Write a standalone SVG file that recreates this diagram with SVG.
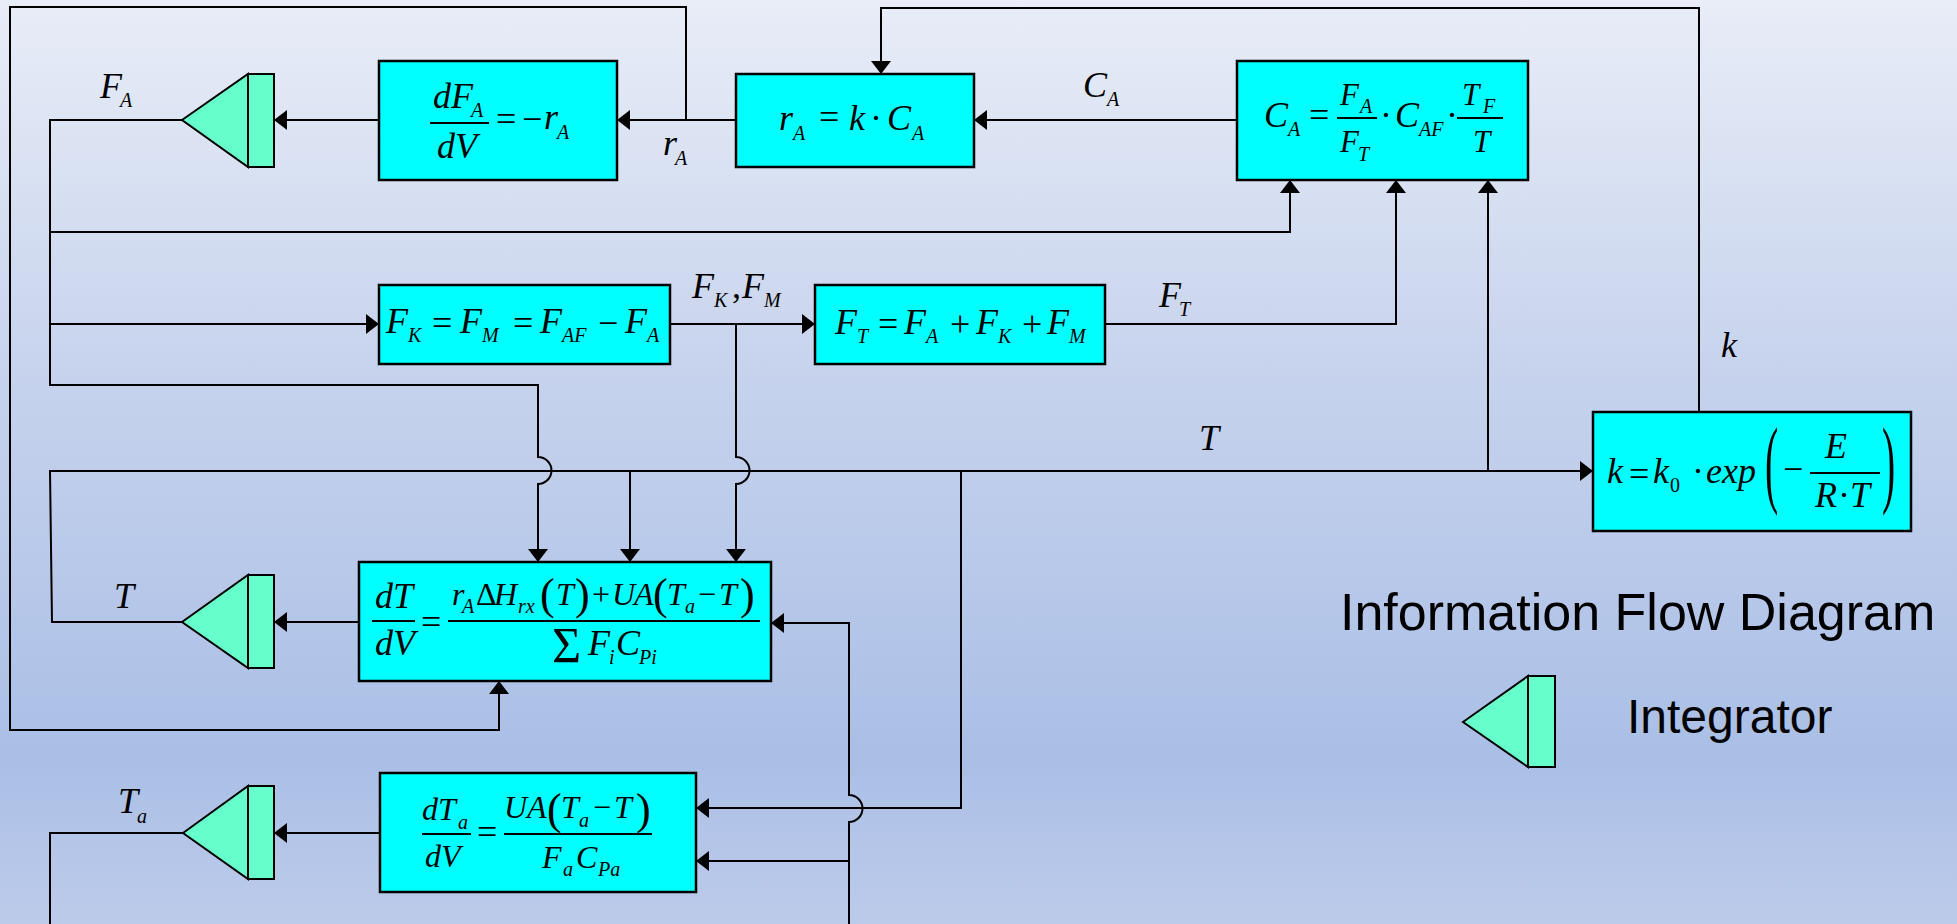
<svg xmlns="http://www.w3.org/2000/svg" width="1957" height="924" viewBox="0 0 1957 924">
<defs>
<linearGradient id="bg" x1="0" y1="0" x2="0" y2="1">
<stop offset="0" stop-color="#e8edf7"/>
<stop offset="0.4" stop-color="#c7d3ed"/>
<stop offset="0.82" stop-color="#aabfe6"/>
<stop offset="1" stop-color="#bdcbea"/>
</linearGradient>
<marker id="ah" markerUnits="userSpaceOnUse" markerWidth="14" markerHeight="20" refX="13" refY="10" orient="auto">
<path d="M0,0 L13,10 L0,20 z" fill="#000"/>
</marker>
<style>
.bx{fill:#00ffff;stroke:#000;stroke-width:2.5}
.ig{fill:#66ffcc;stroke:#000;stroke-width:2}
.ln{fill:none;stroke:#000;stroke-width:2}
.ar{marker-end:url(#ah)}
.fb{stroke:#000;stroke-width:1.8}
.m{font-family:"Liberation Serif",serif;font-style:italic;font-size:36px;fill:#000}
.n{font-family:"Liberation Serif",serif;font-style:italic;font-size:32px;fill:#000}
.f{font-family:"Liberation Serif",serif;font-style:italic;font-size:31px;fill:#000}
.u{font-family:"Liberation Serif",serif;font-size:36px;fill:#000}
.un{font-family:"Liberation Serif",serif;font-size:32px;fill:#000}
.p{font-family:"Liberation Serif",serif;font-size:44px;fill:#000}
.s{font-family:"Liberation Serif",serif;font-style:italic;font-size:20px;fill:#000}
.su{font-family:"Liberation Serif",serif;font-size:20px;fill:#000}
.t{font-family:"Liberation Sans",Arial,sans-serif;fill:#000}
</style>
</defs>
<rect x="0" y="0" width="1957" height="924" fill="url(#bg)"/>

<g id="connectors">
<path class="ln ar" d="M379,120 L274,120"/>
<path class="ln ar" d="M182,120 L50,120 L50,385 L538,385 L538,457 A13.5,13.5 0 0 1 538,484 L538,562"/>
<path class="ln ar" d="M50,232 L1290,232 L1290,180"/>
<path class="ln ar" d="M50,324 L379,324"/>
<path class="ln ar" d="M670,324 L815,324"/>
<path class="ln ar" d="M736,324 L736,457 A13.5,13.5 0 0 1 736,484 L736,562"/>
<path class="ln ar" d="M1105,324 L1396,324 L1396,180"/>
<path class="ln ar" d="M182,622 L52,622 L50,471 L1593,471"/>
<path class="ln ar" d="M630,471 L630,562"/>
<path class="ln ar" d="M961,471 L961,808 L696,808"/>
<path class="ln ar" d="M1488,471 L1488,180"/>
<path class="ln ar" d="M1237,120 L974,120"/>
<path class="ln ar" d="M736,120 L617,120"/>
<path class="ln ar" d="M686,120 L686,7 L10,7 L10,730 L499,730 L499,681"/>
<path class="ln ar" d="M1699,412 L1699,8 L881,8 L881,74"/>
<path class="ln ar" d="M359,622 L274,622"/>
<path class="ln ar" d="M849,924 L849,822 A13.5,13.5 0 0 0 849,795 L849,623 L771,623"/>
<path class="ln ar" d="M849,861 L696,861"/>
<path class="ln ar" d="M380,833 L274,833"/>
<path class="ln" d="M183,833 L50,833 L50,924"/>
</g>

<g id="integrator-FA">
<polygon class="ig" points="182,120 248,74 248,167"/>
<rect class="ig" x="248" y="74" width="26" height="93"/>
</g>
<g id="integrator-T">
<polygon class="ig" points="182,622 248,575 248,668"/>
<rect class="ig" x="248" y="575" width="26" height="93"/>
</g>
<g id="integrator-Ta">
<polygon class="ig" points="183,833 248,786 248,879"/>
<rect class="ig" x="248" y="786" width="26" height="93"/>
</g>

<g id="node-dFA">
<rect class="bx" x="379" y="61" width="238" height="119"/>
<text class="m" x="433" y="108">dF</text><text class="s" x="471" y="117">A</text>
<line class="fb" x1="430" y1="123" x2="489" y2="123"/>
<text class="m" x="437" y="158">dV</text>
<text class="u" x="496" y="131">=</text>
<text class="u" x="522" y="131">−</text>
<text class="m" x="544" y="129">r</text><text class="s" x="557" y="139">A</text>
</g>

<g id="node-rA">
<rect class="bx" x="736" y="74" width="238" height="93"/>
<text class="m" x="779" y="130">r</text><text class="s" x="793" y="140">A</text>
<text class="u" x="819" y="129">=</text>
<text class="m" x="849" y="130">k</text>
<text class="u" x="870" y="130">·</text>
<text class="m" x="887" y="130">C</text><text class="s" x="912" y="140">A</text>
</g>

<g id="node-CA">
<rect class="bx" x="1237" y="61" width="291" height="119"/>
<text class="m" x="1264" y="127">C</text><text class="s" x="1288" y="136">A</text>
<text class="u" x="1309" y="127">=</text>
<text class="f" x="1340" y="105">F</text><text class="s" x="1360" y="113">A</text>
<line class="fb" x1="1337" y1="118" x2="1377" y2="118"/>
<text class="f" x="1340" y="152">F</text><text class="s" x="1358" y="161">T</text>
<text class="u" x="1380" y="127">·</text>
<text class="m" x="1395" y="127">C</text><text class="s" x="1419" y="136">AF</text>
<text class="u" x="1446" y="127">·</text>
<text class="f" x="1462" y="105">T</text><text class="s" x="1483" y="113">F</text>
<line class="fb" x1="1457" y1="118" x2="1503" y2="118"/>
<text class="f" x="1473" y="152">T</text>
</g>

<g id="node-FK">
<rect class="bx" x="379" y="285" width="291" height="79"/>
<text class="m" x="386" y="333">F</text><text class="s" x="408" y="342">K</text>
<text class="u" x="432" y="335">=</text>
<text class="m" x="460" y="333">F</text><text class="s" x="482" y="342">M</text>
<text class="u" x="513" y="335">=</text>
<text class="m" x="540" y="333">F</text><text class="s" x="562" y="342">AF</text>
<text class="u" x="598" y="335">−</text>
<text class="m" x="625" y="333">F</text><text class="s" x="647" y="342">A</text>
</g>

<g id="node-FT">
<rect class="bx" x="815" y="285" width="290" height="79"/>
<text class="m" x="835" y="334">F</text><text class="s" x="857" y="343">T</text>
<text class="u" x="878" y="336">=</text>
<text class="m" x="904" y="334">F</text><text class="s" x="926" y="343">A</text>
<text class="u" x="950" y="336">+</text>
<text class="m" x="976" y="334">F</text><text class="s" x="998" y="343">K</text>
<text class="u" x="1022" y="336">+</text>
<text class="m" x="1047" y="334">F</text><text class="s" x="1069" y="343">M</text>
</g>

<g id="node-k">
<rect class="bx" x="1593" y="412" width="318" height="119"/>
<text class="m" x="1607" y="483">k</text>
<text class="u" x="1629" y="486">=</text>
<text class="m" x="1653" y="483">k</text><text class="su" x="1670" y="492">0</text>
<text class="u" x="1692" y="483">·</text>
<text class="m" x="1706" y="483">exp</text>
<text class="u" transform="translate(1765,495) scale(1.1,2.7)">(</text>
<text class="u" x="1783" y="481">−</text>
<text class="m" x="1825" y="458">E</text>
<line class="fb" x1="1810" y1="473" x2="1880" y2="473"/>
<text class="m" x="1815" y="507">R</text>
<text class="u" x="1838" y="507">·</text>
<text class="m" x="1850" y="507">T</text>
<text class="u" transform="translate(1882,495) scale(1.1,2.7)">)</text>
</g>

<g id="node-dT">
<rect class="bx" x="359" y="562" width="412" height="119"/>
<text class="m" x="375" y="608">dT</text>
<line class="fb" x1="372" y1="621" x2="415" y2="621"/>
<text class="m" x="375" y="655">dV</text>
<text class="u" x="421" y="634">=</text>
<line class="fb" x1="448" y1="621" x2="760" y2="621"/>
<text class="n" x="452" y="605">r</text><text class="s" x="462" y="613">A</text>
<text class="un" x="476" y="605">Δ</text>
<text class="n" x="494" y="605">H</text><text class="s" x="518" y="613">rx</text>
<text class="p" x="540" y="609">(</text>
<text class="n" x="556" y="605">T</text>
<text class="p" x="575" y="609">)</text>
<text class="un" x="592" y="605">+</text>
<text class="n" x="612" y="605">U</text>
<text class="n" x="634" y="605">A</text>
<text class="p" x="653" y="609">(</text>
<text class="n" x="667" y="605">T</text><text class="s" x="685" y="613">a</text>
<text class="un" x="698" y="605">−</text>
<text class="n" x="719" y="605">T</text>
<text class="p" x="740" y="609">)</text>
<text class="u" x="552" y="662" style="font-size:50px">Σ</text>
<text class="m" x="588" y="655">F</text><text class="s" x="609" y="664">i</text>
<text class="m" x="616" y="655">C</text><text class="s" x="639" y="664">Pi</text>
</g>

<g id="node-dTa">
<rect class="bx" x="380" y="773" width="316" height="119"/>
<text class="n" x="422" y="820">dT</text><text class="s" x="458" y="829">a</text>
<line class="fb" x1="422" y1="834" x2="471" y2="834"/>
<text class="n" x="425" y="867">dV</text>
<text class="u" x="477" y="844">=</text>
<line class="fb" x1="504" y1="834" x2="652" y2="834"/>
<text class="n" x="504" y="818">U</text>
<text class="n" x="527" y="818">A</text>
<text class="p" x="547" y="824">(</text>
<text class="n" x="561" y="818">T</text><text class="s" x="579" y="827">a</text>
<text class="un" x="593" y="818">−</text>
<text class="n" x="614" y="818">T</text>
<text class="p" x="636" y="824">)</text>
<text class="n" x="542" y="868">F</text><text class="s" x="563" y="876">a</text>
<text class="n" x="576" y="868">C</text><text class="s" x="598" y="876">Pa</text>
</g>

<g id="labels">
<text class="m" x="100" y="98">F</text><text class="s" x="120" y="107">A</text>
<text class="m" x="663" y="155">r</text><text class="s" x="675" y="165">A</text>
<text class="m" x="1083" y="97">C</text><text class="s" x="1107" y="106">A</text>
<text class="m" x="692" y="298">F</text><text class="s" x="714" y="307">K</text><text class="u" x="732" y="298">,</text><text class="m" x="742" y="298">F</text><text class="s" x="764" y="307">M</text>
<text class="m" x="1159" y="307">F</text><text class="s" x="1179" y="316">T</text>
<text class="m" x="1199" y="450">T</text>
<text class="m" x="1721" y="357">k</text>
<text class="m" x="114" y="608">T</text>
<text class="m" x="118" y="813">T</text><text class="s" x="137" y="823">a</text>
</g>

<g id="legend">
<text class="t" x="1340" y="630" style="font-size:52px">Information Flow Diagram</text>
<polygon class="ig" points="1463,722 1528,676 1528,767"/>
<rect class="ig" x="1528" y="676" width="27" height="91"/>
<text class="t" x="1627" y="733" style="font-size:48px">Integrator</text>
</g>
</svg>
